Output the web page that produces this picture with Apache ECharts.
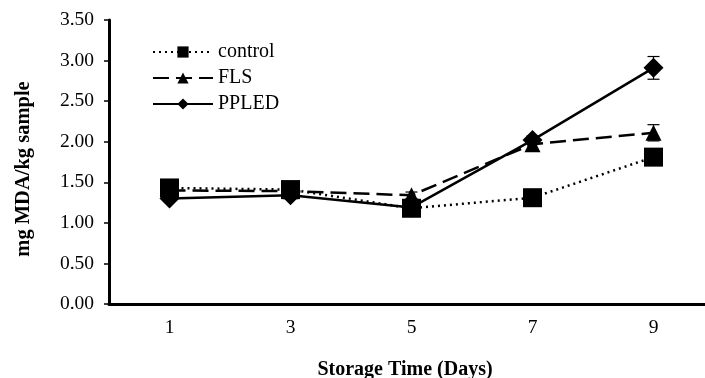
<!DOCTYPE html>
<html><head><meta charset="utf-8">
<script src="https://cdn.jsdelivr.net/npm/echarts@6/dist/echarts.min.js"></script>
<style>html,body{margin:0;padding:0;background:#fff}#c{width:705px;height:378px}</style>
</head><body><div id="c"></div>
<script>
const days = ['1', '3', '5', '7', '9'];
const yTicks = [0, 0.5, 1, 1.5, 2, 2.5, 3, 3.5];
const control = [1.43, 1.41, 1.18, 1.31, 1.81];
const controlErr = [0.03, 0.03, 0.03, 0.04, 0.05];
const fls = [1.40, 1.39, 1.34, 1.97, 2.11];
const flsErr = [0.03, 0.03, 0.04, 0.07, 0.10];
const ppled = [1.30, 1.34, 1.19, 2.02, 2.91];
const ppledErr = [0.03, 0.03, 0.03, 0.05, 0.14];

const font = 'Liberation Serif';
function errSeries(vals, errs) {
  return {
    type: 'custom', silent: true, z: 1,
    data: vals.map((v, i) => [i, v - errs[i], v + errs[i]]),
    renderItem: function (params, api) {
      const lo = api.coord([api.value(0), api.value(1)]);
      const hi = api.coord([api.value(0), api.value(2)]);
      const w = 6;
      return {
        type: 'group', children: [
          { type: 'line', shape: { x1: lo[0], y1: lo[1], x2: hi[0], y2: hi[1] }, style: { stroke: '#000', lineWidth: 1.2 } },
          { type: 'line', shape: { x1: lo[0] - w, y1: lo[1], x2: lo[0] + w, y2: lo[1] }, style: { stroke: '#000', lineWidth: 1.2 } },
          { type: 'line', shape: { x1: hi[0] - w, y1: hi[1], x2: hi[0] + w, y2: hi[1] }, style: { stroke: '#000', lineWidth: 1.2 } }
        ]
      };
    }
  };
}
const chart = echarts.init(document.getElementById('c'));
chart.setOption({
  animation: false,
  backgroundColor: '#fff',
  grid: { left: 109, top: 20, width: 605, height: 284, containLabel: false, outerBoundsMode: 'none' },
  legend: {
    left: 152, top: 42, orient: 'vertical', itemGap: 6, padding: 0,
    itemWidth: 60, itemHeight: 14,
    textStyle: { fontFamily: font, fontSize: 20, color: '#000' },
    data: ['control', 'FLS', 'PPLED']
  },
  xAxis: {
    type: 'category', data: days, boundaryGap: true,
    name: 'Storage Time (Days)', nameLocation: 'middle', nameGap: 56,
    nameTextStyle: { fontFamily: font, fontSize: 20, fontWeight: 'bold', color: '#000', padding: [0, 0, 0, -13] },
    axisLine: { lineStyle: { color: '#000', width: 3 } },
    axisTick: { alignWithLabel: true, length: 4, lineStyle: { color: '#000', width: 2 } },
    axisLabel: { fontFamily: font, fontSize: 19.5, color: '#000', margin: 14 },
    splitLine: { show: false }
  },
  yAxis: {
    type: 'value', min: 0, max: 3.5, interval: 0.5,
    name: 'mg MDA/kg sample', nameLocation: 'middle', nameGap: 75, nameRotate: 90,
    nameTextStyle: { fontFamily: font, fontSize: 20.5, fontWeight: 'bold', color: '#000', padding: [0, 14, 0, 0] },
    axisLine: { show: true, lineStyle: { color: '#000', width: 3 } },
    axisTick: { show: true, length: 5, lineStyle: { color: '#000', width: 1.5 } },
    axisLabel: { fontFamily: font, fontSize: 19.5, color: '#000', margin: 15, formatter: v => yTicks.includes(v) ? v.toFixed(2) : '' },
    splitLine: { show: false }
  },
  series: [
    errSeries(control, controlErr),
    errSeries(fls, flsErr),
    errSeries(ppled, ppledErr),
    { name: 'control', type: 'line', data: control, symbol: 'rect', symbolSize: 19, z: 3,
      itemStyle: { color: '#000' }, lineStyle: { color: '#000', width: 2.5, type: [2, 4] } },
    { name: 'FLS', type: 'line', data: fls, symbol: 'triangle', symbolSize: 16, z: 4,
      itemStyle: { color: '#000' }, lineStyle: { color: '#000', width: 2.5, type: [16, 7] } },
    { name: 'PPLED', type: 'line', data: ppled, symbol: 'diamond', symbolSize: 20, z: 5,
      itemStyle: { color: '#000' }, lineStyle: { color: '#000', width: 2.5 } }
  ]
});
</script></body></html>
